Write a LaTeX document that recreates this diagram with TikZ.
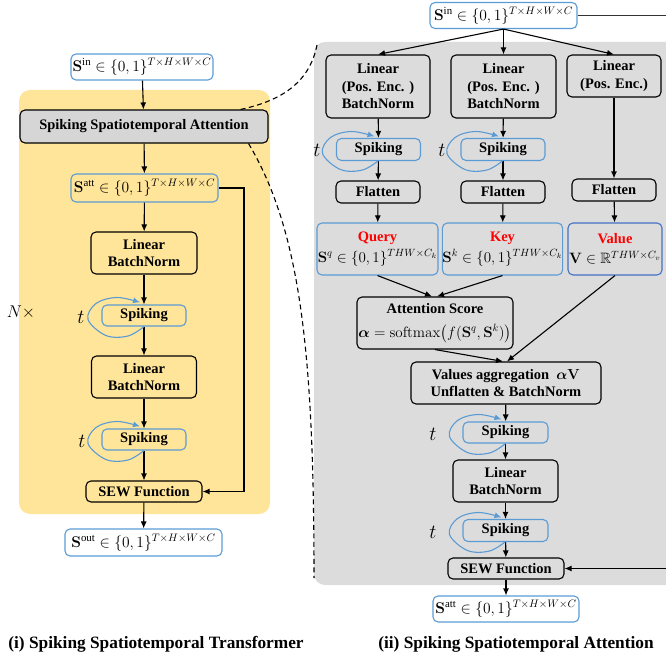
\RequirePackage{fix-cm}
\documentclass[tikz,border=0pt]{standalone}
\usepackage{amsmath,amssymb}
\usepackage[no-math]{fontspec}
\setmainfont{Liberation Serif}
\usetikzlibrary{arrows.meta,calc}
\definecolor{panelY}{HTML}{FFE599}
\definecolor{panelG}{HTML}{DCDCDC}
\definecolor{boxG}{HTML}{D6D6D6}
\definecolor{lblue}{HTML}{5B9BD5}
\definecolor{dblue}{HTML}{4472C4}
\tikzset{
  base/.style={font=\fontsize{14.5}{17.5}\selectfont\bfseries, align=center, inner sep=1pt, line width=1.1pt, rounded corners=5pt},
  blk/.style={base, draw=black},
  bluebx/.style={base, draw=lblue},
  mathbx/.style={draw=lblue, line width=1.1pt, rounded corners=5pt, inner sep=1pt, font=\fontsize{15.5}{17}\selectfont},
  arr/.style={draw=black, line width=1.1pt, -{Latex[length=7pt,width=6pt]}},
  loopc/.style={draw=lblue, line width=1.1pt, -{Latex[length=7pt,width=6pt]}},
  tlab/.style={font=\fontsize{20}{20}\selectfont},
  dsh/.style={line width=1.1pt, dash pattern=on 5pt off 3.5pt},
  capt/.style={font=\fontsize{17.3}{20}\selectfont\bfseries},
}
\newcommand\spkloop[1]{\draw[loopc] plot[smooth, tension=0.6] coordinates {
  ($(#1.center)+(0,11)$) ($(#1.center)+(-16,20.5)$) ($(#1.center)+(-38,20)$)
  ($(#1.center)+(-56,4)$) ($(#1.center)+(-48,-12)$) ($(#1.center)+(-27,-18)$)
  ($(#1.center)+(-4,-13)$)};}
\begin{document}
\begin{tikzpicture}[x=1pt,y=-1pt]
\useasboundingbox (0,0) rectangle (666,658);
\clip (0,0) rectangle (666,658);
% panels
\fill[panelY, rounded corners=11pt] (19,90) rectangle (270,514);
\fill[panelG, rounded corners=11pt] (314,42) rectangle (700,585);

% ---------- left ----------
\node[mathbx, minimum width=142pt, minimum height=26pt] (sinL) at (142,67) {$\mathbf{S}^{\text{in}}\in\{0,1\}^{T\times H\times W\times C}$};
\node[blk, fill=boxG, minimum width=248pt, minimum height=33pt] (ssa) at (144,126.5) {Spiking Spatiotemporal Attention};
\node[mathbx, minimum width=147pt, minimum height=28pt] (sattL) at (144.5,188) {$\mathbf{S}^{\text{att}}\in\{0,1\}^{T\times H\times W\times C}$};
\node[blk, minimum width=106pt, minimum height=42pt] (lin1) at (144,253) {Linear\\BatchNorm};
\node[bluebx, minimum width=84pt, minimum height=21pt] (spk1) at (144,315.5) {Spiking};
\node[blk, minimum width=105pt, minimum height=42pt] (lin2) at (144,377) {Linear\\BatchNorm};
\node[bluebx, minimum width=84pt, minimum height=21pt] (spk2) at (144,439.5) {Spiking};
\node[blk, minimum width=116pt, minimum height=21pt] (sewL) at (144,491.5) {SEW Function};
\node[mathbx, minimum width=157pt, minimum height=27pt] (soutL) at (143.5,542.5) {$\mathbf{S}^{\text{out}}\in\{0,1\}^{T\times H\times W\times C}$};
\node[font=\fontsize{17}{17}\selectfont] (nx) at (21,312) {$N\times$};
\node[tlab] (tl1) at (81,317) {$t$};
\node[tlab] (tl2) at (82,441) {$t$};
\coordinate (resx) at (244,0);

\draw[arr] (sinL) -- (ssa);
\draw[arr] (ssa) -- (sattL);
\draw[arr] (sattL) -- (lin1);
\draw[arr] (lin1) -- (spk1);
\draw[arr] (spk1) -- (lin2);
\draw[arr] (lin2) -- (spk2);
\draw[arr] (spk2) -- (sewL);
\draw[arr] (sewL) -- (soutL);
\draw[arr] (sattL.east) -- (sattL.east -| resx) |- (sewL.east);
\spkloop{spk1}
\spkloop{spk2}

% ---------- right ----------
\node[mathbx, minimum width=147pt, minimum height=26pt] (sinR) at (503.5,15.5) {$\mathbf{S}^{\text{in}}\in\{0,1\}^{T\times H\times W\times C}$};
\node[blk, minimum width=104pt, minimum height=63pt] (rl1) at (378,86.5) {Linear\\(Pos. Enc. )\\BatchNorm};
\node[blk, minimum width=105pt, minimum height=63pt] (rl2) at (503.5,86.5) {Linear\\(Pos. Enc. )\\BatchNorm};
\node[blk, minimum width=94pt, minimum height=42pt] (rl3) at (614,76) {Linear\\(Pos. Enc.)};
\node[bluebx, minimum width=84pt, minimum height=22pt] (rs1) at (378.5,149.5) {Spiking};
\node[bluebx, minimum width=84pt, minimum height=22pt] (rs2) at (503,149.5) {Spiking};
\node[blk, minimum width=84pt, minimum height=22pt] (rf1) at (378,192) {Flatten};
\node[blk, minimum width=84pt, minimum height=22pt] (rf2) at (503,192) {Flatten};
\node[blk, minimum width=84pt, minimum height=22pt] (rf3) at (614,190) {Flatten};
\node[bluebx, inner xsep=0pt, minimum width=121pt, minimum height=52pt] (qry) at (377.5,249) {\textcolor{red}{Query}\\[3pt]\mdseries\fontsize{15}{17}\selectfont$\mathbf{S}^{q}\in\{0,1\}^{THW\times C_k}$};
\node[bluebx, inner xsep=0pt, minimum width=117pt, minimum height=52pt] (key) at (502.5,249) {\textcolor{red}{Key}\\[3pt]\mdseries\fontsize{15}{17}\selectfont$\mathbf{S}^{k}\in\{0,1\}^{THW\times C_k}$};
\node[base, draw=dblue, minimum width=94pt, minimum height=52pt] (val) at (615,249) {\textcolor{red}{Value}\\[3pt]\mdseries\fontsize{15}{17}\selectfont$\mathbf{V}\in\mathbb{R}^{THW\times C_v}$};
\node[blk, minimum width=156pt, minimum height=52pt] (attn) at (435,323) {Attention Score\\[6pt]\mdseries\fontsize{15}{17}\selectfont$\boldsymbol{\alpha}=\mathrm{softmax}\bigl(f(\mathbf{S}^{q},\mathbf{S}^{k})\bigr)$};
\node[blk, minimum width=190pt, minimum height=42pt] (vagg) at (506,383) {Values aggregation\ \ $\boldsymbol{\alpha}\mathbf{V}$\\Unflatten \& BatchNorm};
\node[bluebx, minimum width=85pt, minimum height=21pt] (rs3) at (505.5,432.5) {Spiking};
\node[blk, minimum width=105pt, minimum height=42pt] (rlin) at (505.5,481) {Linear\\BatchNorm};
\node[bluebx, minimum width=85pt, minimum height=22pt] (rs4) at (505.5,530.5) {Spiking};
\node[blk, minimum width=116pt, minimum height=21pt] (rsew) at (506,568.5) {SEW Function};
\node[mathbx, minimum width=146pt, minimum height=26pt] (rsatt) at (506,609) {$\mathbf{S}^{\text{att}}\in\{0,1\}^{T\times H\times W\times C}$};
\node[tlab] (tr1) at (317,150) {$t$};
\node[tlab] (tr2) at (442,150) {$t$};
\node[tlab] (tr3) at (433,434) {$t$};
\node[tlab] (tr4) at (433,532) {$t$};
\coordinate (edgeTop) at (666,15.5);
\coordinate (edgeBot) at (666,568.5);

\draw[arr] (sinR.south) -- (rl1.north);
\draw[arr] (sinR.south) -- (rl2.north);
\draw[arr] (sinR.south) -- (rl3.north);
\draw[arr] (rl1) -- (rs1);
\draw[arr] (rl2) -- (rs2);
\draw[arr] (rs1) -- (rf1);
\draw[arr] (rs2) -- (rf2);
\draw[arr] (rl3) -- (rf3);
\draw[arr] (rf1) -- (qry);
\draw[arr] (rf2) -- (key);
\draw[arr] (rf3) -- (val);
\draw[arr] (qry.south) -- ($(attn.north)+(-3,0)$);
\draw[arr] (key.south) -- ($(attn.north)+(2,0)$);
\draw[arr] (attn.south) -- ($(vagg.north)+(-3,0)$);
\draw[arr] (val.south) -- ($(vagg.north)+(1,0)$);
\draw[arr] (vagg) -- (rs3);
\draw[arr] (rs3) -- (rlin);
\draw[arr] (rlin) -- (rs4);
\draw[arr] (rs4) -- (rsew);
\draw[arr] (rsew) -- (rsatt);
\draw[line width=1.1pt, draw=black!80] (sinR.east) -- (edgeTop);
\draw[arr] (edgeBot) -- (rsew.east);
\spkloop{rs1}
\spkloop{rs2}
\spkloop{rs3}
\spkloop{rs4}

% dashed connectors
\draw[dsh] ($(ssa.north east)+(-28,0)$) .. controls (285,100) and (310,80) .. (317,45);
\draw[dsh] ($(ssa.south east)+(-20,0)$) .. controls (300,230) and (314,350) .. (314,578);

% captions
\node[capt] (cap1) at (156,644) {(i) Spiking Spatiotemporal Transformer};
\node[capt] (cap2) at (516,644) {(ii) Spiking Spatiotemporal Attention};
\end{tikzpicture}
\end{document}
